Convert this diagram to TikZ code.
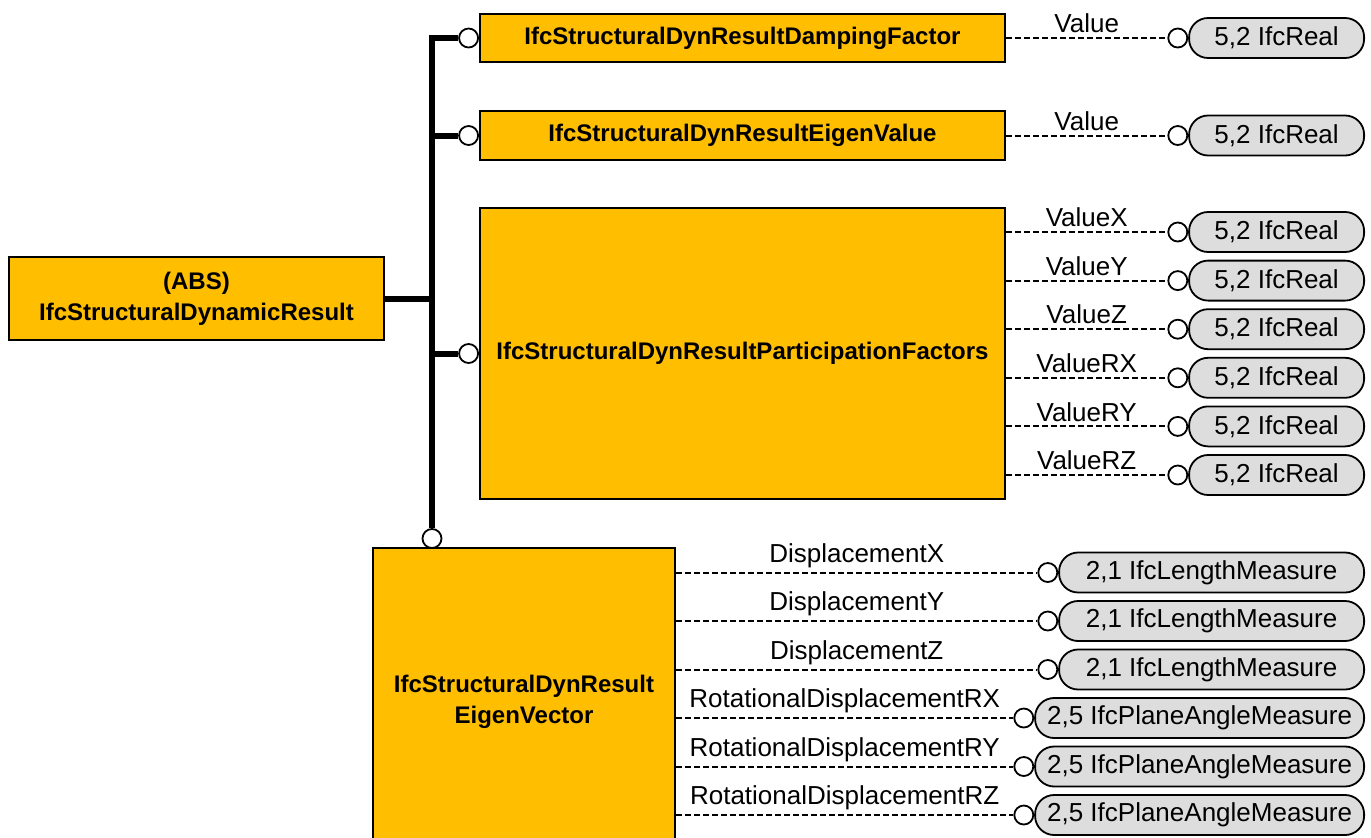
\documentclass[tikz,border=0pt]{standalone}
\usepackage{fontspec}
\setmainfont{Liberation Sans}
\usepackage{xcolor}
\usepackage{tikz}
\usetikzlibrary{positioning}
\definecolor{ifcamber}{RGB}{255,190,0}
\definecolor{ifcgray}{RGB}{221,221,221}
\tikzset{
entity/.style={draw,line width=2pt,fill=ifcamber,align=center,inner sep=0pt,font=\fontsize{24}{31}\selectfont\bfseries},
port/.style={circle,draw,line width=1.8pt,fill=white,minimum size=19pt,inner sep=0pt},
pill/.style={draw,line width=1.8pt,fill=ifcgray,rounded corners=19pt,minimum height=40pt,anchor=east,font=\fontsize{26}{30}\selectfont},
bus/.style={line width=6pt},
attr/.style={dash pattern=on 6pt off 3pt,line width=2pt},
attrlabel/.style={midway,above,inner sep=4pt,font=\fontsize{26}{30}\selectfont}
}

\begin{document}
\begin{tikzpicture}[x=1pt,y=-1pt]
\useasboundingbox (0,0) rectangle (1371,838);
\node[entity,minimum width=375pt,minimum height=83pt](dynresult) at (196.5,298.5) {(ABS)\\IfcStructuralDynamicResult};
\node[entity,minimum width=525pt,minimum height=48pt](damping) at (742.5,38) {IfcStructuralDynResultDampingFactor};
\node[entity,minimum width=525pt,minimum height=49pt](eigenvalue) at (742.5,135.5) {IfcStructuralDynResultEigenValue};
\node[entity,minimum width=525pt,minimum height=291pt](participation) at (742.5,353.5) {IfcStructuralDynResultParticipationFactors};
\node[entity,minimum width=302pt,minimum height=308pt](eigenvector) at (524,702) {IfcStructuralDynResult\\EigenVector};
% subtypes on the bus
\node[port,left=0pt of damping](dampingport) {};
\node[port,left=0pt of eigenvalue](eigenvalueport) {};
\node[port,left=0pt of participation](participationport) {};
\node[port](eigenvectorport) at (432,538.5) {};
\draw[bus](dampingport.west) -| (eigenvectorport.north);
\draw[bus](eigenvalueport.west) -- (eigenvalueport.west -| eigenvectorport.north);
\draw[bus](participationport.west) -- (participationport.west -| eigenvectorport.north);
\draw[bus](dynresult.east) -- (dynresult.east -| eigenvectorport.north);
% attributes
\node[pill,minimum width=175pt](dampingtype) at (1365,38) {5,2 IfcReal};
\node[port,left=0pt of dampingtype](dampingtypeport) {};
\draw[attr](damping.east) -- (dampingtypeport) node[attrlabel]{Value};
\node[pill,minimum width=175pt](eigenvaluetype) at (1365,135.5) {5,2 IfcReal};
\node[port,left=0pt of eigenvaluetype](eigenvaluetypeport) {};
\draw[attr](eigenvalue.east) -- (eigenvaluetypeport) node[attrlabel]{Value};
\foreach \name [count=\i from 0] in {X,Y,Z,RX,RY,RZ}{
  \node[pill,minimum width=175pt](factor\name) at (1365,{232+48.6*\i}) {5,2 IfcReal};
  \node[port,left=0pt of factor\name](factorport\name) {};
  \draw[attr](participation.east |- factorport\name) -- (factorport\name) node[attrlabel]{Value\name};
}
\foreach \name/\type/\w [count=\i from 0] in {DisplacementX/{2,1 IfcLengthMeasure}/305,DisplacementY/{2,1 IfcLengthMeasure}/305,DisplacementZ/{2,1 IfcLengthMeasure}/305,RotationalDisplacementRX/{2,5 IfcPlaneAngleMeasure}/329,RotationalDisplacementRY/{2,5 IfcPlaneAngleMeasure}/329,RotationalDisplacementRZ/{2,5 IfcPlaneAngleMeasure}/329}{
  \node[pill,minimum width=\w pt](vectortype\i) at (1365,{572.5+48.5*\i}) {\type};
  \node[port,left=0pt of vectortype\i](vectorport\i) {};
  \draw[attr](eigenvector.east |- vectorport\i) -- (vectorport\i) node[attrlabel]{\name};
}
\end{tikzpicture}
\end{document}
